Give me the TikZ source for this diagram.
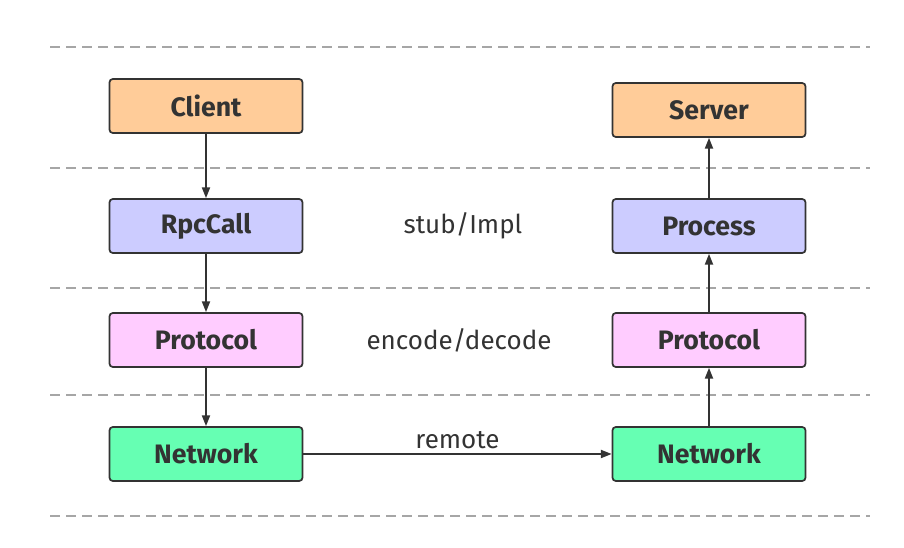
\documentclass[tikz,border=0pt]{standalone}
\usepackage{fontspec}
\setmainfont{Fira Sans}
\usetikzlibrary{arrows.meta}
\definecolor{edgegray}{HTML}{333333}
\definecolor{dashgray}{HTML}{A6A6A6}
\definecolor{clientfill}{HTML}{FFCC99}
\definecolor{callfill}{HTML}{CCCCFF}
\definecolor{protofill}{HTML}{FFCCFF}
\definecolor{netfill}{HTML}{66FFB3}
\begin{document}
\begin{tikzpicture}[
    x=0.75pt, y=-0.75pt,
    >={Triangle[length=8pt,width=6pt]},
    line width=1.3pt,
    layerbox/.style={rectangle, draw=edgegray, rounded corners=2.5pt, line width=1.3pt,
      minimum width=144.75pt, minimum height=40.5pt, inner sep=0pt,
      font=\fontsize{20}{22}\selectfont\bfseries, text=edgegray},
    note/.style={font=\fontsize{19.5}{21}\selectfont, text=edgegray},
    sep/.style={dashgray, dash pattern=on 7.5pt off 4.5pt, line width=1pt}
]
  \useasboundingbox (0,0) rectangle (904,548);

  % layer separators
  \foreach \yy in {47,168,288,395,516}
    \draw[sep] (50,\yy) -- (870,\yy);

  % client side
  \node[layerbox, fill=clientfill] (client) at (206,106) {Client};
  \node[layerbox, fill=callfill]   (rpccall) at (206,226) {RpcCall};
  \node[layerbox, fill=protofill]  (cproto) at (206,340) {Protocol};
  \node[layerbox, fill=netfill]    (cnet) at (206,454) {Network};

  % server side
  \node[layerbox, fill=clientfill] (server) at (709,110) {Server};
  \node[layerbox, fill=callfill]   (process) at (709,226) {Process};
  \node[layerbox, fill=protofill]  (sproto) at (709,340) {Protocol};
  \node[layerbox, fill=netfill]    (snet) at (709,454) {Network};

  % layer notes
  \node[note] (stub) at (463,226) {stub/Impl};
  \node[note] (codec) at (459,340) {encode/decode};

  % edges
  \draw[->, edgegray] (client) -- (rpccall);
  \draw[->, edgegray] (rpccall) -- (cproto);
  \draw[->, edgegray] (cproto) -- (cnet);
  \draw[->, edgegray] (cnet) -- node[note, above=0pt] {remote} (snet);
  \draw[->, edgegray] (snet) -- (sproto);
  \draw[->, edgegray] (sproto) -- (process);
  \draw[->, edgegray] (process) -- (server);
\end{tikzpicture}
\end{document}
